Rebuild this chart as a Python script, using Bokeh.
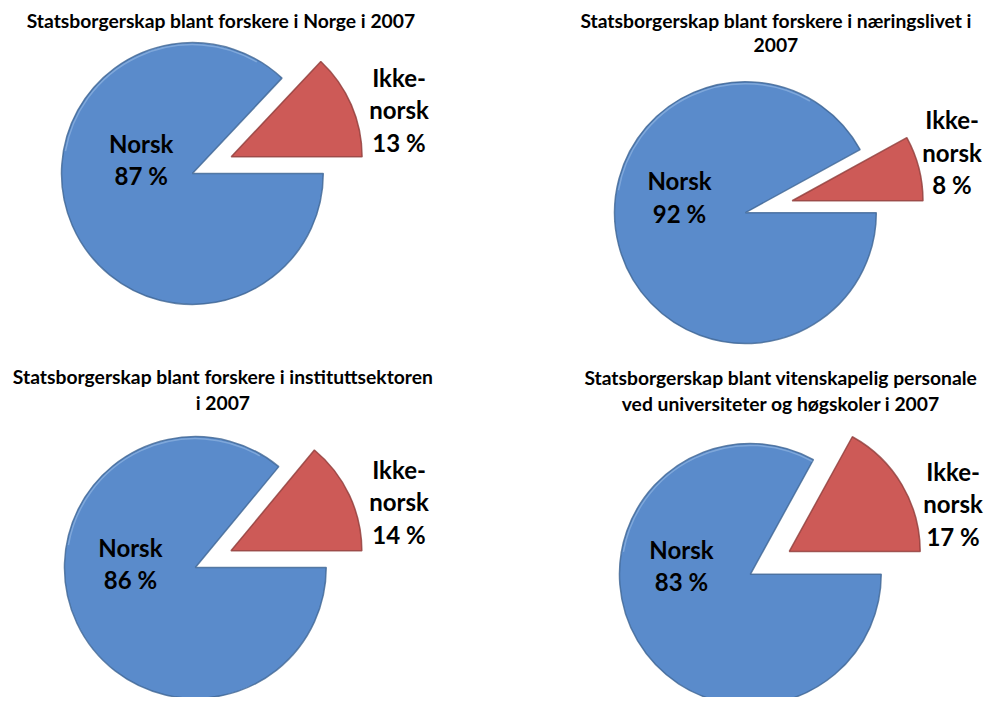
import math
from bokeh.plotting import figure
from bokeh.models import Range1d, ColumnDataSource
from bokeh.core.properties import value
from bokeh.embed import file_html
from bokeh.resources import INLINE

# ---------------- data ----------------
titles = [
    ["Statsborgerskap blant forskere i Norge i 2007"],
    ["Statsborgerskap blant forskere i næringslivet i", "2007"],
    ["Statsborgerskap blant forskere i instituttsektoren", "i 2007"],
    ["Statsborgerskap blant vitenskapelig personale", "ved universiteter og høgskoler i 2007"],
]
categories = ["Norsk", "Ikke-norsk"]
norsk_pct = [87, 92, 86, 83]
ikke_pct = [13, 8, 14, 17]

# ---------------- layout (reference pixel coords) ----------------
W, H = 987, 697
REF_W, REF_H = 1003, 713
def Y(v):
    return REF_H - v

pie_centers = [(195, 177), (757, 217), (198, 580), (762, 587)]
radius = 133
explode = [43, 49, 40, 46]
title_pos = [(224, 20), (788, 20), (226, 385), (793, 386)]
title_gap = 26
norsk_lbl = [(143, 163), (690, 201), (132, 576), (692, 578)]
ikke_lbl = [(405, 112), (967, 155), (405, 513), (968, 515)]
line_gap = 33

BLUE = "#5a8bcb"
BLUE_EDGE = "#3f6594"
BLUE_HI = "#8fb3e0"
RED = "#cd5a57"
RED_EDGE = "#8e3c3a"
RED_HI = "#e28e8b"
FONT = "Lato"
TITLE_SIZE = "19.3px"
LABEL_SIZE = "24px"

p = figure(width=W, height=H, output_backend="svg", toolbar_location=None,
           x_range=Range1d(0, REF_W), y_range=Range1d(0, REF_H),
           min_border=0)
p.axis.visible = False
p.grid.visible = False
p.outline_line_color = None
p.background_fill_color = "white"

def split_label(name):
    if "-" in name:
        i = name.index("-")
        return [name[:i + 1], name[i + 1:]]
    return [name]

for k in range(4):
    cx, cy = pie_centers[k]
    frac = ikke_pct[k] / 100.0
    a = 2 * math.pi * frac
    mid = a / 2
    # blue (Norsk) slice
    blue_src = ColumnDataSource(dict(x=[cx], y=[Y(cy)], s=[a], e=[2 * math.pi],
                                     v=[norsk_pct[k]]))
    p.wedge(x="x", y="y", radius=radius, start_angle="s", end_angle="e",
            source=blue_src, fill_color=BLUE, line_color=BLUE_EDGE,
            line_width=1.5, line_alpha=0.8, direction="anticlock")
    # subtle bevel highlight on the upper rim
    p.arc(x=[cx], y=[Y(cy)], radius=radius - 2, start_angle=max(a, math.radians(60)),
          end_angle=math.radians(170), line_color=BLUE_HI, line_width=1.5,
          line_alpha=0.7, direction="anticlock")
    # red (Ikke-norsk) slice, exploded along bisector
    rx = cx + explode[k] * math.cos(mid)
    ry = Y(cy) + explode[k] * math.sin(mid)
    red_src = ColumnDataSource(dict(x=[rx], y=[ry], s=[0.0], e=[a], v=[ikke_pct[k]]))
    p.wedge(x="x", y="y", radius=radius, start_angle="s", end_angle="e",
            source=red_src, fill_color=RED, line_color=RED_EDGE,
            line_width=1.5, line_alpha=0.8, direction="anticlock")

    # titles
    tx, ty = title_pos[k]
    lines = titles[k]
    p.text(x=[tx] * len(lines), y=[Y(ty + i * title_gap) for i in range(len(lines))],
           text=lines, text_font=value(FONT), text_font_style="bold",
           text_font_size=TITLE_SIZE, text_align="center", text_baseline="middle",
           text_color="black")

    # Norsk label
    nl = split_label(categories[0]) + [f"{norsk_pct[k]} %"]
    nx, ny = norsk_lbl[k]
    n = len(nl)
    p.text(x=[nx] * n, y=[Y(ny + (i - (n - 1) / 2) * line_gap) for i in range(n)],
           text=nl, text_font=value(FONT), text_font_style="bold",
           text_font_size=LABEL_SIZE, text_align="center", text_baseline="middle",
           text_color="black")

    # Ikke-norsk label
    il = split_label(categories[1]) + [f"{ikke_pct[k]} %"]
    ix, iy = ikke_lbl[k]
    n = len(il)
    p.text(x=[ix] * n, y=[Y(iy + (i - (n - 1) / 2) * line_gap) for i in range(n)],
           text=il, text_font=value(FONT), text_font_style="bold",
           text_font_size=LABEL_SIZE, text_align="center", text_baseline="middle",
           text_color="black")

open("out.html", "w").write(file_html(p, INLINE))
